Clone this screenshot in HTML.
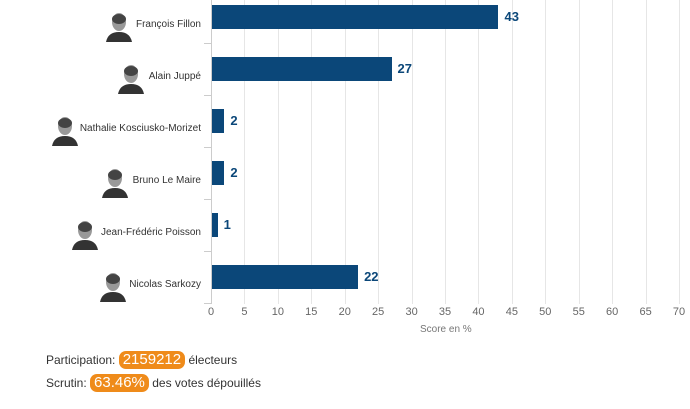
<!DOCTYPE html><html><head><style>
body{margin:0;width:690px;height:409px;background:#fff;font-family:"Liberation Sans",sans-serif;position:relative;overflow:hidden}
.a{position:absolute}
.g{position:absolute;top:0;height:304px;width:1px;background:#e6e6e6}
.t{position:absolute;top:306px;font-size:11px;color:#666;width:30px;margin-left:-15px;text-align:center}
.bar{position:absolute;height:24px;background:#0b4779;left:211px}
.v{position:absolute;font-size:13px;font-weight:bold;color:#0b4779}
.n{position:absolute;right:489px;font-size:10px;color:#333;white-space:nowrap}
.p{position:absolute;width:30px;height:32px}
.pill{display:inline-block;background:#ef8b1a;color:#fff;font-size:15px;border-radius:7px;padding:0 4px;line-height:18px}
.l{position:absolute;left:46px;font-size:12px;color:#333}
</style></head><body>
<div id="grid"></div>
<div class="a" style="left:211px;top:0;width:1px;height:304px;background:#ccc"></div>
<script>
var h='';for(var i=1;i<=14;i++){var x=211+i*5*6.686;h+='<div class="g" style="left:'+x+'px"></div>';}
for(var i=0;i<=14;i++){var x=211+i*5*6.686;h+='<div class="t" style="left:'+x+'px">'+(i*5)+'</div>';}
for(var k=1;k<=6;k++){h+='<div class="a" style="left:204px;top:'+(k*52-9)+'px;width:7px;height:1px;background:#ccc"></div>';}
var d=[["François Fillon",43],["Alain Juppé",27],["Nathalie Kosciusko-Morizet",2],["Bruno Le Maire",2],["Jean-Frédéric Poisson",1],["Nicolas Sarkozy",22]];
d.forEach(function(r,k){var y=5+k*52;var w=r[1]*6.686;
h+='<div class="bar" style="top:'+y+'px;width:'+w+'px"></div>';
h+='<div class="v" style="top:'+(y+4)+'px;left:'+(211+w+6)+'px">'+r[1]+'</div>';
h+='<div class="n" style="top:'+(y+14)+'px">'+r[0]+'</div>';
var px=[104,116,50,100,70,98][k];
h+='<svg class="p" style="left:'+px+'px;top:'+(y+5)+'px" viewBox="0 0 30 32"><ellipse cx="15" cy="12" rx="7" ry="9" fill="#999"/><path d="M2 32 Q4 22 15 22 Q26 22 28 32Z" fill="#333"/><ellipse cx="15" cy="9" rx="7" ry="5" fill="#444"/></svg>';});
document.getElementById('grid').innerHTML=h;
</script>
<div class="a" style="left:420px;top:324px;font-size:10px;color:#777">Score en %</div>
<div class="l" style="top:351px">Participation: <span class="pill">2159212</span> électeurs</div>
<div class="l" style="top:374px">Scrutin: <span class="pill">63.46%</span> des votes dépouillés</div>
</body></html>
